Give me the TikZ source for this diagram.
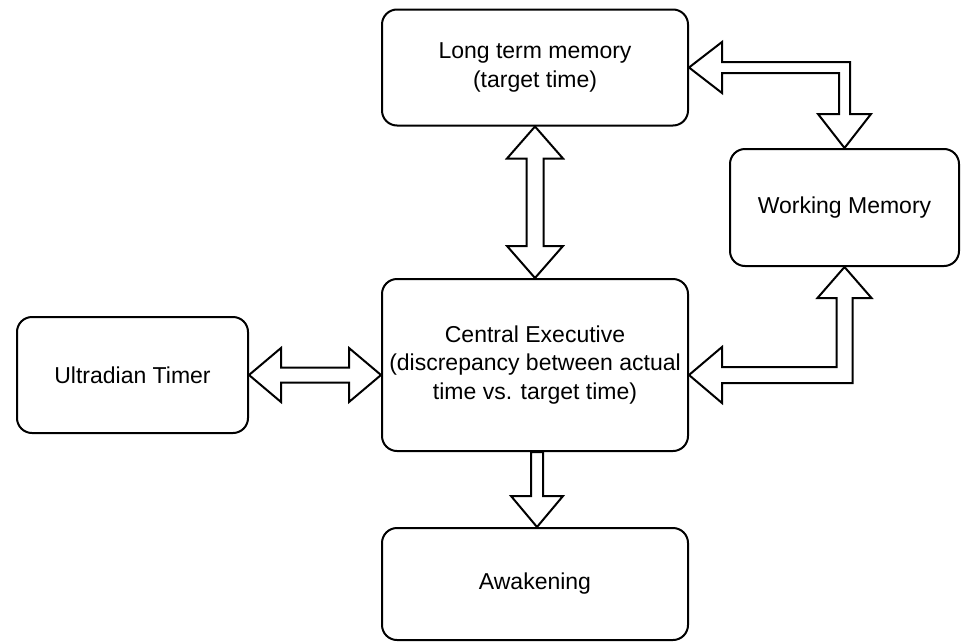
\documentclass[tikz,border=0pt]{standalone}
\usepackage{fontspec}
\setmainfont{Liberation Sans}
\usetikzlibrary{calc}
\begin{document}
\begin{tikzpicture}[x=1pt,y=-1pt,
  box/.style={draw=black,line width=2pt,rounded corners=15pt,align=center,inner sep=0pt,
    font=\fontsize{23}{28.5}\selectfont},
  barrow/.style={draw=black,line width=2pt,fill=white,line join=miter}]
\useasboundingbox (0,0) rectangle (961,643);
\node[box,minimum width=306pt,minimum height=116pt] (ltm) at (535,67.5) {Long term memory\\(target time)};
\node[box,minimum width=229pt,minimum height=117pt] (wm) at (844.5,207.5) {Working Memory};
\node[box,minimum width=306pt,minimum height=172pt] (ce) at (535,365) {Central Executive\\(discrepancy between actual\\time vs. target time)};
\node[box,minimum width=231pt,minimum height=116pt] (ut) at (132.5,375) {Ultradian Timer};
\node[box,minimum width=306pt,minimum height=112pt] (aw) at (535,584) {Awakening};
% LTM <-> CE
\draw[barrow] (ltm.south) -- ++(28,32) -- ++(-19.5,0) -- ($(ce.north)+(8.5,-32)$) -- ++(19.5,0)
  -- (ce.north) -- ++(-28,-32) -- ++(19.5,0) -- ($(ltm.south)+(-8.5,32)$) -- ++(-19.5,0) -- cycle;
% UT <-> CE
\coordinate (cw) at (ce.west|-ut.east);
\draw[barrow] (ut.east) -- ++(32,-27) -- ++(0,19.5) -- ($(cw)+(-32,-7.5)$) -- ++(0,-19.5)
  -- (cw) -- ++(-32,27) -- ++(0,-19.5) -- ($(ut.east)+(32,7.5)$) -- ++(0,19.5) -- cycle;
% CE -> AW
\coordinate (d1) at ($(ce.south)+(2,0)$);
\coordinate (d2) at ($(aw.north)+(2,0)$);
\draw[barrow] ($(d1)+(-6,0)$) -- ($(d2)+(-6,-31)$) -- ++(-20,0) -- (d2) -- ++(26,-31) -- ++(-20,0)
  -- ($(d1)+(6,0)$) -- cycle;
% LTM <-> WM
\coordinate (a) at (ltm.east);
\coordinate (b) at (wm.north);
\draw[barrow] (a) -- ($(a)+(33,-25.5)$) -- ($(a)+(33,-5.5)$) -- ($(b|-a)+(5.5,-5.5)$)
  -- ($(b)+(5.5,-34)$) -- ($(b)+(26.5,-34)$) -- (b) -- ($(b)+(-26.5,-34)$) -- ($(b)+(-5.5,-34)$)
  -- ($(b|-a)+(-5.5,5.5)$) -- ($(a)+(33,5.5)$) -- ($(a)+(33,25.5)$) -- cycle;
% CE <-> WM
\coordinate (c) at ($(ce.east)+(0,10)$);
\coordinate (e) at (wm.south);
\draw[barrow] (c) -- ($(c)+(33,-28)$) -- ($(c)+(33,-8)$) -- ($(e|-c)+(-8,-8)$)
  -- ($(e)+(-8,31)$) -- ($(e)+(-27,31)$) -- (e) -- ($(e)+(27,31)$) -- ($(e)+(8,31)$)
  -- ($(e|-c)+(8,8)$) -- ($(c)+(33,8)$) -- ($(c)+(33,28)$) -- cycle;
\end{tikzpicture}
\end{document}
